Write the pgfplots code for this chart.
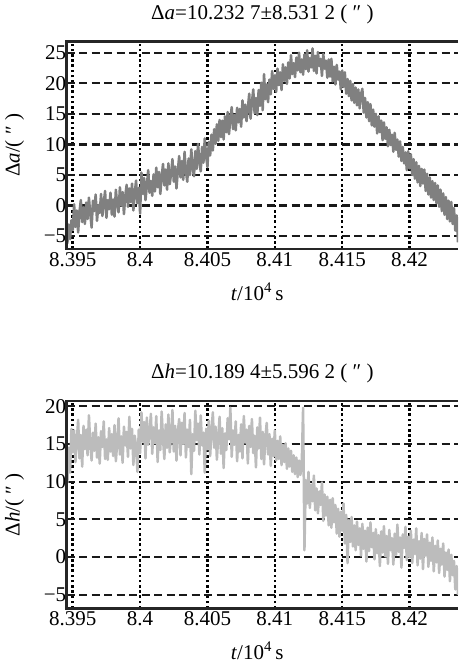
\documentclass[border=0pt]{standalone}
\usepackage{pgfplots}
\pgfplotsset{compat=1.18}
\usepackage{fontspec}
\setmainfont{Liberation Serif}
\newcommand{\fs}{\fontsize{21bp}{25bp}\selectfont}
\definecolor{topgray}{RGB}{128,128,128}
\definecolor{botgray}{RGB}{188,188,188}
\pgfplotsset{mystyle/.style={
  scale only axis, width=391.3bp, height=207.3bp,
  xmin=8.39455, xmax=8.4236,
  xtick={8.395,8.4,8.405,8.41,8.415,8.42},
  xticklabels={8.395,8.4,8.405,8.41,8.415,8.42},
  scaled x ticks=false,
  major tick length=0pt,
  grid=major,
  x grid style={black,line width=2.6bp,dash pattern=on 2.6bp off 2.6bp},
  y grid style={black!90,line width=2.2bp,dash pattern=on 8bp off 4.5bp},
  axis line style={draw=none},
  clip mode=individual,
  tick label style={font=\fs},
  /pgf/number format/assume math mode=true,
  yticklabel style={xshift=3bp},
  title style={font=\fs, at={(0.5,1)}, anchor=base, yshift=16.7bp},
  xlabel style={font=\fs, at={(axis description cs:0.487,0)}, anchor=base, yshift=-51bp},
  ylabel style={font=\fs, at={(axis description cs:-0.133,0.5)}, anchor=center},
  xlabel={\textit{t}/10\textsuperscript{4}\,s},
}}
\begin{document}
\begin{tikzpicture}
\path (-66.7bp,249bp) (391.3bp,-415bp);
\begin{axis}[mystyle, at={(0,0)}, anchor=south west,
  ymin=-7.1, ymax=26.8,
  ytick={-5,0,5,10,15,20,25},
  yticklabels={−5,0,5,10,15,20,25},
  title={Δ\textit{a}=10.232 7±8.531 2 ( ″ )},
  ylabel={Δ\textit{a}/( ″ )}]
\addplot[topgray, line width=2.5bp, line join=round, no marks] coordinates {
(8.3946,-6.2)(8.3947,-3.1)(8.3948,-5.5)(8.3949,-2.4)(8.3950,-4.0)
(8.3951,0.2)(8.3952,-3.5)(8.3953,-0.8)(8.3954,-4.4)(8.3955,-1.0)(8.3956,0.9)(8.3957,-2.7)(8.3958,-0.3)(8.3959,-3.0)(8.3960,0.5)
(8.3961,-2.2)(8.3962,1.3)(8.3963,-1.4)(8.3964,-3.6)(8.3965,0.8)(8.3966,-0.9)(8.3967,1.8)(8.3968,-2.5)(8.3969,0.1)(8.3970,-1.2)
(8.3971,1.9)(8.3972,-1.7)(8.3973,0.4)(8.3974,2.4)(8.3975,-2.0)(8.3976,0.9)(8.3977,-0.6)(8.3978,2.1)(8.3979,-1.5)(8.3980,1.0)
(8.3981,-1.8)(8.3982,2.6)(8.3983,0.2)(8.3984,-1.1)(8.3985,3.0)(8.3986,0.0)(8.3987,2.2)(8.3988,-1.4)(8.3989,1.6)(8.3990,3.4)
(8.3991,-0.2)(8.3992,2.8)(8.3993,0.6)(8.3994,3.6)(8.3995,-0.8)(8.3996,2.0)(8.3997,4.1)(8.3998,0.4)(8.3999,2.9)(8.4000,-1.3)
(8.4001,5.4)(8.4002,1.9)(8.4003,4.5)(8.4004,0.9)(8.4005,3.2)(8.4006,5.8)(8.4007,2.1)(8.4008,4.0)(8.4009,1.6)(8.4010,5.1)
(8.4011,2.3)(8.4012,6.2)(8.4013,3.0)(8.4014,5.5)(8.4015,1.9)(8.4016,4.7)(8.4017,6.8)(8.4018,3.3)(8.4019,5.9)(8.4020,2.6)
(8.4021,6.9)(8.4022,3.5)(8.4023,5.2)(8.4024,7.6)(8.4025,3.9)(8.4026,6.4)(8.4027,2.8)(8.4028,5.7)(8.4029,8.1)(8.4030,4.6)
(8.4031,7.3)(8.4032,4.2)(8.4033,8.8)(8.4034,5.6)(8.4035,3.9)(8.4036,7.7)(8.4037,5.0)(8.4038,9.2)(8.4039,6.1)(8.4040,4.8)
(8.4041,8.9)(8.4042,6.0)(8.4043,10.1)(8.4044,7.2)(8.4045,5.6)(8.4046,9.6)(8.4047,7.0)(8.4048,11.0)(8.4049,8.1)(8.4050,6.3)
(8.4051,10.4)(8.4052,8.2)(8.4053,11.6)(8.4054,9.0)(8.4055,12.5)(8.4056,10.1)(8.4057,13.3)(8.4058,10.6)(8.4059,14.0)(8.4060,11.2)
(8.4061,13.9)(8.4062,10.8)(8.4063,14.6)(8.4064,12.0)(8.4065,15.3)(8.4066,11.7)(8.4067,14.2)(8.4068,16.1)(8.4069,12.5)(8.4070,14.8)
(8.4071,12.3)(8.4072,16.0)(8.4073,13.6)(8.4074,15.8)(8.4075,12.9)(8.4076,17.2)(8.4077,14.4)(8.4078,16.5)(8.4079,13.8)(8.4080,15.9)
(8.4081,18.3)(8.4082,14.2)(8.4083,16.9)(8.4084,19.0)(8.4085,15.1)(8.4086,17.6)(8.4087,14.8)(8.4088,18.9)(8.4089,16.3)(8.4090,20.1)
(8.4091,15.6)(8.4092,21.5)(8.4093,17.4)(8.4094,19.8)(8.4095,16.9)(8.4096,20.6)(8.4097,18.2)(8.4098,22.0)(8.4099,19.1)(8.4100,21.3)
(8.4101,18.6)(8.4102,22.4)(8.4103,19.7)(8.4104,21.8)(8.4105,18.9)(8.4106,23.1)(8.4107,20.4)(8.4108,22.6)(8.4109,19.9)(8.4110,23.4)
(8.4111,20.8)(8.4112,24.6)(8.4113,21.5)(8.4114,23.3)(8.4115,21.0)(8.4116,24.2)(8.4117,22.1)(8.4118,25.0)(8.4119,21.8)(8.4120,23.9)
(8.4121,21.4)(8.4122,24.7)(8.4123,22.3)(8.4124,25.4)(8.4125,21.9)(8.4126,24.1)(8.4127,22.6)(8.4128,25.7)(8.4129,22.0)(8.4130,24.5)
(8.4131,21.6)(8.4132,25.1)(8.4133,22.8)(8.4134,24.0)(8.4135,21.2)(8.4136,24.8)(8.4137,22.4)(8.4138,23.7)(8.4139,20.9)(8.4140,23.9)
(8.4141,21.1)(8.4142,24.0)(8.4143,20.3)(8.4144,22.7)(8.4145,19.8)(8.4146,23.0)(8.4147,20.6)(8.4148,21.9)(8.4149,19.0)(8.4150,22.1)
(8.4151,19.4)(8.4152,21.8)(8.4153,18.3)(8.4154,20.7)(8.4155,17.9)(8.4156,20.4)(8.4157,17.2)(8.4158,19.9)(8.4159,16.8)(8.4160,19.3)
(8.4161,16.4)(8.4162,19.0)(8.4163,15.9)(8.4164,18.2)(8.4165,19.1)(8.4166,15.2)(8.4167,17.6)(8.4168,14.4)(8.4169,16.9)(8.4170,13.8)
(8.4171,16.6)(8.4172,13.1)(8.4173,15.7)(8.4174,12.9)(8.4175,15.0)(8.4176,11.8)(8.4177,14.6)(8.4178,12.0)(8.4179,13.9)(8.4180,10.7)
(8.4181,13.6)(8.4182,10.9)(8.4183,12.8)(8.4184,9.7)(8.4185,12.4)(8.4186,9.9)(8.4187,11.6)(8.4188,8.8)(8.4189,11.9)(8.4190,9.1)
(8.4191,10.8)(8.4192,8.0)(8.4193,10.5)(8.4194,7.3)(8.4195,9.6)(8.4196,6.9)(8.4197,8.7)(8.4198,5.8)(8.4199,8.9)(8.4200,6.1)
(8.4201,8.4)(8.4202,5.0)(8.4203,7.6)(8.4204,4.4)(8.4205,7.1)(8.4206,3.8)(8.4207,6.5)(8.4208,3.2)(8.4209,6.0)(8.4210,3.6)
(8.4211,5.9)(8.4212,2.4)(8.4213,5.2)(8.4214,1.8)(8.4215,4.6)(8.4216,1.3)(8.4217,4.0)(8.4218,0.9)(8.4219,3.7)(8.4220,0.4)
(8.4221,3.3)(8.4222,-0.2)(8.4223,2.6)(8.4224,-0.9)(8.4225,2.0)(8.4226,-1.5)(8.4227,1.4)(8.4228,-2.2)(8.4229,0.8)(8.4230,-2.6)
(8.4231,0.6)(8.4232,-3.0)(8.4233,-0.4)(8.4234,-4.1)(8.4235,-1.6)(8.4236,-6.0)
};
\draw[line width=2.5bp, black!85] (rel axis cs:1,1) -- (rel axis cs:0,1) -- (rel axis cs:0,0) -- (rel axis cs:1,0);
\end{axis}
\begin{axis}[mystyle, at={(0,-359.3bp)}, anchor=south west,
  ymin=-6.8, ymax=20.7,
  ytick={-5,0,5,10,15,20},
  yticklabels={−5,0,5,10,15,20},
  title={Δ\textit{h}=10.189 4±5.596 2 ( ″ )},
  ylabel={Δ\textit{h}/( ″ )}]
\addplot[botgray, line width=2.5bp, line join=round, no marks] coordinates {
(8.3946,9.8)(8.3947,14.5)(8.3948,11.2)(8.3949,17.0)(8.3950,13.9)
(8.3951,16.8)(8.3952,12.6)(8.3953,15.4)(8.3954,18.2)(8.3955,13.1)(8.3956,16.2)(8.3957,12.0)(8.3958,17.4)(8.3959,14.3)(8.3960,16.9)
(8.3961,13.5)(8.3962,18.8)(8.3963,15.0)(8.3964,12.8)(8.3965,16.5)(8.3966,14.1)(8.3967,17.7)(8.3968,13.2)(8.3969,15.9)(8.3970,12.4)
(8.3971,16.7)(8.3972,14.6)(8.3973,18.0)(8.3974,13.0)(8.3975,15.6)(8.3976,12.9)(8.3977,17.1)(8.3978,14.0)(8.3979,16.3)(8.3980,13.4)
(8.3981,17.5)(8.3982,12.7)(8.3983,15.2)(8.3984,18.4)(8.3985,13.6)(8.3986,16.0)(8.3987,12.5)(8.3988,17.3)(8.3989,14.8)(8.3990,16.6)
(8.3991,13.3)(8.3992,18.6)(8.3993,14.4)(8.3994,17.0)(8.3995,12.2)(8.3996,16.1)(8.3997,14.7)(8.3998,11.3)(8.3999,16.9)(8.4000,13.8)
(8.4001,19.2)(8.4002,15.3)(8.4003,17.9)(8.4004,13.1)(8.4005,18.5)(8.4006,14.9)(8.4007,16.4)(8.4008,19.0)(8.4009,13.7)(8.4010,17.2)
(8.4011,15.1)(8.4012,18.7)(8.4013,12.6)(8.4014,16.8)(8.4015,14.2)(8.4016,19.3)(8.4017,15.7)(8.4018,13.0)(8.4019,17.6)(8.4020,14.5)
(8.4021,18.9)(8.4022,13.9)(8.4023,16.2)(8.4024,19.5)(8.4025,14.0)(8.4026,17.4)(8.4027,12.8)(8.4028,16.6)(8.4029,18.3)(8.4030,13.5)
(8.4031,17.8)(8.4032,15.0)(8.4033,19.1)(8.4034,13.2)(8.4035,16.9)(8.4036,14.6)(8.4037,18.2)(8.4038,11.0)(8.4039,16.3)(8.4040,14.1)
(8.4041,19.4)(8.4042,15.5)(8.4043,17.7)(8.4044,13.6)(8.4045,18.8)(8.4046,14.8)(8.4047,16.5)(8.4048,11.2)(8.4049,17.0)(8.4050,14.3)
(8.4051,18.1)(8.4052,13.4)(8.4053,16.7)(8.4054,19.2)(8.4055,14.5)(8.4056,17.3)(8.4057,12.9)(8.4058,16.0)(8.4059,18.6)(8.4060,13.7)
(8.4061,17.1)(8.4062,11.8)(8.4063,16.4)(8.4064,14.2)(8.4065,18.4)(8.4066,15.6)(8.4067,19.8)(8.4068,13.3)(8.4069,16.8)(8.4070,14.9)
(8.4071,18.0)(8.4072,12.7)(8.4073,16.2)(8.4074,14.0)(8.4075,17.6)(8.4076,13.1)(8.4077,18.7)(8.4078,15.2)(8.4079,16.9)(8.4080,12.4)
(8.4081,17.4)(8.4082,14.6)(8.4083,18.3)(8.4084,13.8)(8.4085,16.1)(8.4086,11.9)(8.4087,17.2)(8.4088,14.4)(8.4089,18.5)(8.4090,13.0)
(8.4091,16.6)(8.4092,12.3)(8.4093,15.9)(8.4094,17.8)(8.4095,13.6)(8.4096,16.3)(8.4097,12.1)(8.4098,15.7)(8.4099,13.4)(8.4100,16.8)
(8.4101,12.8)(8.4102,15.4)(8.4103,13.0)(8.4104,16.0)(8.4105,12.2)(8.4106,14.9)(8.4107,12.6)(8.4108,15.1)(8.4109,11.7)(8.4110,14.4)
(8.4111,12.0)(8.4112,14.1)(8.4113,11.3)(8.4114,13.5)(8.4115,11.0)(8.4116,13.2)(8.4117,10.6)(8.4118,12.8)(8.4119,10.9)(8.4120,12.4)
(8.4121,19.8)(8.4122,0.9)(8.4123,10.2)(8.4124,7.1)(8.4125,11.3)(8.4126,6.5)(8.4127,9.6)(8.4128,7.4)(8.4129,10.8)(8.4130,6.2)
(8.4131,9.1)(8.4132,5.8)(8.4133,8.7)(8.4134,6.9)(8.4135,9.9)(8.4136,4.8)(8.4137,8.3)(8.4138,5.5)(8.4139,8.0)(8.4140,4.2)
(8.4141,7.6)(8.4142,3.9)(8.4143,7.8)(8.4144,4.6)(8.4145,6.9)(8.4146,3.1)(8.4147,6.4)(8.4148,2.7)(8.4149,6.0)(8.4150,3.5)
(8.4151,7.1)(8.4152,1.8)(8.4153,5.6)(8.4154,-0.8)(8.4155,4.9)(8.4156,2.0)(8.4157,5.3)(8.4158,1.4)(8.4159,4.2)(8.4160,0.9)
(8.4161,4.7)(8.4162,1.6)(8.4163,3.8)(8.4164,0.2)(8.4165,4.4)(8.4166,1.1)(8.4167,3.5)(8.4168,-0.6)(8.4169,3.9)(8.4170,0.8)
(8.4171,4.6)(8.4172,1.3)(8.4173,3.2)(8.4174,-0.3)(8.4175,3.7)(8.4176,0.5)(8.4177,2.9)(8.4178,-1.2)(8.4179,3.4)(8.4180,0.6)
(8.4181,4.1)(8.4182,0.1)(8.4183,2.8)(8.4184,-0.9)(8.4185,3.6)(8.4186,0.9)(8.4187,2.5)(8.4188,-1.0)(8.4189,3.1)(8.4190,0.3)
(8.4191,4.3)(8.4192,0.7)(8.4193,2.6)(8.4194,-1.4)(8.4195,3.0)(8.4196,1.2)(8.4197,4.0)(8.4198,-0.4)(8.4199,2.7)(8.4200,0.0)
(8.4201,3.5)(8.4202,-0.8)(8.4203,2.3)(8.4204,0.4)(8.4205,3.8)(8.4206,-1.1)(8.4207,2.1)(8.4208,-0.2)(8.4209,3.2)(8.4210,-1.6)
(8.4211,2.4)(8.4212,0.2)(8.4213,3.0)(8.4214,-1.3)(8.4215,1.9)(8.4216,-0.5)(8.4217,2.6)(8.4218,-1.9)(8.4219,1.5)(8.4220,-0.7)
(8.4221,2.2)(8.4222,-2.1)(8.4223,1.1)(8.4224,-1.0)(8.4225,1.8)(8.4226,-2.6)(8.4227,0.6)(8.4228,-1.7)(8.4229,1.0)(8.4230,-3.2)
(8.4231,0.3)(8.4232,-2.4)(8.4233,-0.5)(8.4234,-4.3)(8.4235,-1.2)(8.4236,-5.0)
};
\draw[line width=2.5bp, black!85] (rel axis cs:1,1) -- (rel axis cs:0,1) -- (rel axis cs:0,0) -- (rel axis cs:1,0);
\end{axis}
\end{tikzpicture}
\end{document}
